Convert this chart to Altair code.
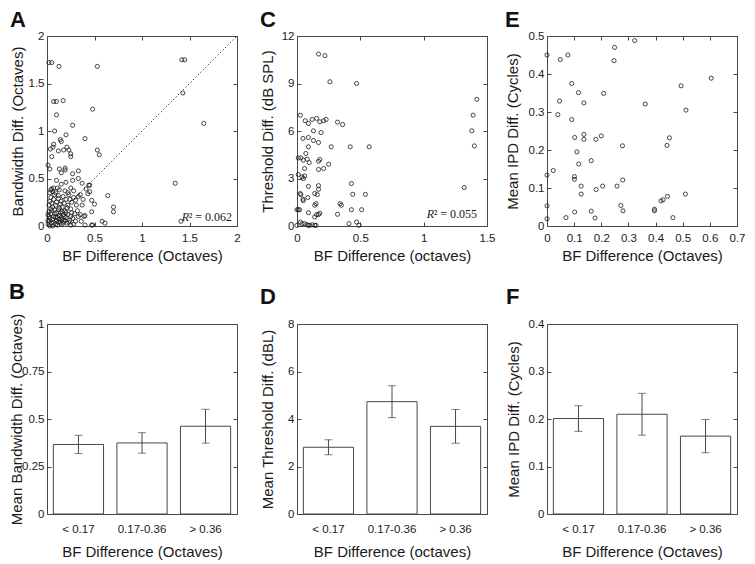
import altair as alt
import pandas as pd

FONT = "Liberation Sans"
TXT = "#1a1a1a"
LINE = "#474747"

# ---------------- Panel A: BF difference vs bandwidth difference ----------------
a_x = [0.02, 0.05, 0.126, 0.53, 1.42, 1.45, 1.43, 1.65, 1.35, 1.41,
       0.07, 0.098, 0.17, 0.10, 0.48, 0.27, 0.08, 0.40, 0.20,
       0.53, 0.55, 0.14, 0.15, 0.035, 0.07, 0.063, 0.175, 0.21, 0.23, 0.25, 0.25,
       0.12, 0.05, 0.01, 0.03, 0.13, 0.15, 0.19, 0.19, 0.33, 0.27, 0.33, 0.27, 0.37,
       0.15, 0.44, 0.45, 0.05, 0.07, 0.64, 0.70, 0.70, 0.58, 0.61, 0.47, 0.50, 0.47,
       0.45, 0.43, 0.41, 0.40, 0.40, 0.47, 0.48, 0.25,
       0.01, 0.02, 0.03, 0.01, 0.02, 0.04, 0.05, 0.06, 0.07, 0.08, 0.09, 0.10, 0.11,
       0.12, 0.13, 0.14, 0.15, 0.16, 0.17, 0.18, 0.19, 0.20, 0.21, 0.22, 0.24, 0.25,
       0.27, 0.29, 0.31, 0.33,
       0.02, 0.03, 0.04, 0.05, 0.06, 0.07, 0.08, 0.09, 0.10, 0.12, 0.13, 0.14, 0.15,
       0.16, 0.17, 0.18, 0.20, 0.22, 0.23, 0.26, 0.28, 0.30,
       0.01, 0.02, 0.03, 0.04, 0.05, 0.06, 0.07, 0.08, 0.09, 0.10, 0.11, 0.12, 0.13,
       0.14, 0.15, 0.16, 0.17, 0.18, 0.19, 0.20, 0.21, 0.23, 0.25, 0.26, 0.28, 0.30,
       0.32, 0.35, 0.37, 0.39, 0.36,
       0.04, 0.06, 0.09, 0.11, 0.13, 0.19, 0.22, 0.25, 0.10, 0.20, 0.28, 0.33, 0.24,
       0.38, 0.35, 0.12, 0.03]
a_y = [1.72, 1.72, 1.68, 1.68, 1.75, 1.75, 1.40, 1.08, 0.45, 0.05,
       1.31, 1.31, 1.32, 1.17, 1.23, 1.06, 1.00, 0.92, 0.96,
       0.80, 0.75, 0.91, 0.89, 0.81, 0.86, 0.83, 0.80, 0.83, 0.80, 0.76, 0.73,
       0.79, 0.73, 0.64, 0.60, 0.60, 0.56, 0.61, 0.59, 0.58, 0.55, 0.50, 0.48, 0.45,
       0.44, 0.43, 0.43, 0.39, 0.40, 0.32, 0.20, 0.15, 0.05, 0.03, 0.15, 0.23, 0.27,
       0.36, 0.34, 0.39, 0.11, 0.01, 0.01, 0.01, 0.01,
       0.02, 0.05, 0.08, 0.12, 0.15, 0.18, 0.03, 0.07, 0.10, 0.13, 0.02, 0.06, 0.09,
       0.04, 0.11, 0.14, 0.02, 0.07, 0.12, 0.05, 0.16, 0.09, 0.03, 0.12, 0.06, 0.18,
       0.08, 0.13, 0.22, 0.10,
       0.22, 0.26, 0.30, 0.24, 0.20, 0.28, 0.33, 0.22, 0.25, 0.29, 0.19, 0.23, 0.26,
       0.20, 0.31, 0.24, 0.28, 0.22, 0.33, 0.25, 0.30, 0.27,
       0.06, 0.10, 0.00, 0.13, 0.16, 0.00, 0.04, 0.17, 0.09, 0.14, 0.01, 0.17, 0.07,
       0.04, 0.09, 0.15, 0.03, 0.10, 0.06, 0.14, 0.19, 0.04, 0.10, 0.14, 0.02, 0.05,
       0.16, 0.12, 0.22, 0.10, 0.05,
       0.38, 0.36, 0.35, 0.40, 0.38, 0.37, 0.35, 0.40, 0.48, 0.46, 0.37, 0.31, 0.28,
       0.28, 0.33, 0.32, 0.35]

# ---------------- Panel C: BF difference vs threshold difference ----------------
c_x = [0.17, 0.22, 0.26, 0.47, 1.42, 1.39, 1.38, 1.40, 1.32,
       0.026, 0.065, 0.09, 0.12, 0.155, 0.18, 0.21, 0.23, 0.32, 0.36,
       0.047, 0.09, 0.13, 0.13, 0.17, 0.19, 0.09, 0.27, 0.42, 0.57,
       0.01, 0.03, 0.07, 0.05, 0.08, 0.096, 0.17, 0.18, 0.25, 0.21, 0.17, 0.06,
       0.01, 0.04, 0.06, 0.05, 0.09, 0.17, 0.17, 0.14, 0.16, 0.026, 0.03, 0.047, 0.05,
       0.085, 0.15, 0.14,
       0.43, 0.44, 0.54, 0.34, 0.35, 0.32, 0.43, 0.51, 0.0, 0.01, 0.02, 0.09, 0.18,
       0.17, 0.14, 0.155,
       0.026, 0.04, 0.06, 0.0, 0.09, 0.10, 0.12, 0.14, 0.15, 0.41, 0.47, 0.49, 0.08]
c_y = [10.86, 10.76, 9.11, 9.0, 8.0, 7.0, 6.01, 5.06, 2.43,
       7.0, 6.65, 6.48, 6.73, 6.8, 6.58, 6.65, 6.73, 6.56, 6.41,
       5.53, 5.59, 6.01, 5.4, 5.27, 5.9, 5.0, 5.0, 5.0, 5.0,
       4.3, 4.3, 4.58, 4.16, 4.22, 4.0, 4.09, 4.2, 3.9, 3.63, 3.57, 3.63,
       3.25, 3.1, 3.16, 3.0, 2.5, 2.55, 2.32, 2.05, 1.98, 2.05, 1.98, 1.69, 1.6,
       1.8, 1.41, 1.31,
       2.68, 2.0, 2.0, 1.41, 1.31, 0.74, 1.03, 1.03, 1.03, 1.03, 1.03, 0.84, 0.8,
       0.72, 0.57, 0.72,
       0.25, 0.15, 0.15, 0.04, 0.04, 0.04, 0.08, 0.04, 0.04, 0.15, 0.25, 0.04, 0.08]

# ---------------- Panel E: BF difference vs mean IPD difference ----------------
e_x = [0.0, 0.0, 0.0, 0.0, 0.049, 0.077, 0.04, 0.046, 0.023, 0.07,
       0.091, 0.091, 0.116, 0.136, 0.102, 0.11, 0.117, 0.136, 0.136, 0.101, 0.101,
       0.126, 0.126, 0.102, 0.163, 0.18, 0.20, 0.209, 0.181, 0.205, 0.163, 0.177,
       0.249, 0.247, 0.323, 0.278, 0.258, 0.279, 0.272, 0.28, 0.362, 0.396, 0.396,
       0.42, 0.428, 0.444, 0.442, 0.451, 0.464, 0.494, 0.512, 0.51, 0.605]
e_y = [0.45, 0.134, 0.053, 0.019, 0.438, 0.45, 0.293, 0.329, 0.146, 0.022,
       0.375, 0.28, 0.351, 0.324, 0.233, 0.195, 0.163, 0.241, 0.228, 0.13, 0.123,
       0.105, 0.084, 0.037, 0.172, 0.228, 0.237, 0.349, 0.096, 0.105, 0.039, 0.021,
       0.47, 0.435, 0.488, 0.211, 0.105, 0.121, 0.054, 0.04, 0.321, 0.044, 0.04,
       0.066, 0.069, 0.078, 0.212, 0.232, 0.022, 0.369, 0.305, 0.084, 0.389]

# ---------------- Panels B, D, F: group means with error bars ----------------
groups = ["< 0.17", "0.17-0.36", "> 0.36"]
b_mean = [0.366, 0.374, 0.462]
b_err = [0.048, 0.054, 0.089]
d_mean = [2.81, 4.73, 3.69]
d_err = [0.315, 0.67, 0.71]
f_mean = [0.201, 0.210, 0.164]
f_err = [0.027, 0.044, 0.035]

W = 190
H = 190

COMMON = dict(domain=False, grid=False, tickSize=4, offset=-4, tickColor=LINE, tickWidth=1,
              labelFont=FONT, labelFontSize=11.5, labelColor=TXT, titleFont=FONT,
              titleFontSize=15, titleColor=TXT, titleFontWeight="normal", format=".2~f",
              labelOverlap=False, labelFlush=False)
TICKONLY = dict(domain=False, grid=False, tickSize=4, offset=-4, tickColor=LINE, tickWidth=1,
                labels=False, title=None)


def letter_title(letter, off):
    return alt.TitleParams(letter, anchor="start", frame="bounds", font=FONT, fontSize=22,
                           fontWeight="bold", color="#111111", offset=off)


def r2_layers(label, right_gap, base_gap):
    rest = "\u00b2 = " + label
    rest_w = 43
    r = alt.Chart(pd.DataFrame({"t": ["R"]})).mark_text(
        font="Liberation Serif", fontStyle="italic", fontSize=12, align="right",
        baseline="alphabetic", color=TXT).encode(
        x=alt.value(W - right_gap - rest_w), y=alt.value(H - base_gap), text="t:N")
    rr = alt.Chart(pd.DataFrame({"t": [rest]})).mark_text(
        font="Liberation Serif", fontSize=12, align="right",
        baseline="alphabetic", color=TXT).encode(
        x=alt.value(W - right_gap), y=alt.value(H - base_gap), text="t:N")
    return [r, rr]


def scatter(xs, ys, xdom, ydom, xvals, yvals, xtitle, ytitle, ytx, letter, extra):
    df = pd.DataFrame({"x": xs, "y": ys})
    xsc = alt.Scale(domain=xdom, nice=False, zero=False)
    ysc = alt.Scale(domain=ydom, nice=False, zero=False)
    xaxis = alt.Axis(orient="bottom", values=xvals, title=xtitle, labelPadding=6, titleY=38,
                     titleBaseline="alphabetic", labelAngle=0, **COMMON)
    yaxis = alt.Axis(orient="left", values=yvals, title=ytitle, labelPadding=3, titleX=ytx - 4,
                     titleBaseline="alphabetic", **COMMON)
    pts = alt.Chart(df).mark_point(shape="circle", filled=False, size=17, strokeWidth=0.8,
                                   color=TXT, opacity=1).encode(
        x=alt.X("x:Q", scale=xsc, axis=xaxis), y=alt.Y("y:Q", scale=ysc, axis=yaxis))
    ghost = alt.Chart(df).mark_point(opacity=0, size=1).encode(
        x=alt.X("x:Q", scale=xsc, axis=alt.Axis(orient="top", values=xvals, **TICKONLY)),
        y=alt.Y("y:Q", scale=ysc, axis=alt.Axis(orient="right", values=yvals, **TICKONLY)))
    layers = [pts, ghost]
    for e in extra:
        layers.append(e(xsc, ysc))
    return alt.layer(*layers).resolve_axis(x="independent", y="independent").properties(
        width=W, height=H, title=letter_title(letter, -2))


def diag_layer(xsc, ysc):
    d = pd.DataFrame({"x": [0, 2], "y": [0, 2]})
    return alt.Chart(d).mark_line(strokeDash=[1.2, 2.3], color=TXT, strokeWidth=1).encode(
        x=alt.X("x:Q", scale=xsc, axis=None), y=alt.Y("y:Q", scale=ysc, axis=None))


def text_layer(chart):
    return lambda xsc, ysc: chart


def bars(means, errs, ymax, yvals, xtitle, ytitle, ytx, letter):
    df = pd.DataFrame({"g": groups, "m": means,
                       "lo": [m - e for m, e in zip(means, errs)],
                       "hi": [m + e for m, e in zip(means, errs)]})
    xsc = alt.Scale(domain=groups, paddingInner=0.21, paddingOuter=0.1)
    ysc = alt.Scale(domain=[0, ymax], nice=False, zero=True)
    xaxis = alt.Axis(orient="bottom", title=xtitle, ticks=False, domain=False, grid=False,
                     labelPadding=9, titleY=42, titleBaseline="alphabetic", labelAngle=0,
                     labelFont=FONT, labelFontSize=11.5, labelColor=TXT, titleFont=FONT,
                     titleFontSize=15, titleColor=TXT, titleFontWeight="normal")
    yaxis = alt.Axis(orient="left", values=yvals, title=ytitle, labelPadding=3, titleX=ytx - 4,
                     titleBaseline="alphabetic", **COMMON)
    base = alt.Chart(df)
    bar = base.mark_bar(fill="white", stroke=LINE, strokeWidth=1).encode(
        x=alt.X("g:N", scale=xsc, axis=xaxis, sort=groups),
        y=alt.Y("m:Q", scale=ysc, axis=yaxis))
    rule = base.mark_rule(color=LINE, strokeWidth=1).encode(
        x=alt.X("g:N", scale=xsc, axis=None, sort=groups),
        y=alt.Y("lo:Q", scale=ysc, axis=None), y2="hi:Q")
    cap_lo = base.mark_tick(color=LINE, size=8, thickness=1).encode(
        x=alt.X("g:N", scale=xsc, axis=None, sort=groups),
        y=alt.Y("lo:Q", scale=ysc, axis=None))
    cap_hi = base.mark_tick(color=LINE, size=8, thickness=1).encode(
        x=alt.X("g:N", scale=xsc, axis=None, sort=groups),
        y=alt.Y("hi:Q", scale=ysc, axis=None))
    ghost = base.mark_point(opacity=0, size=1).encode(
        x=alt.X("g:N", scale=xsc, axis=None, sort=groups),
        y=alt.Y("m:Q", scale=ysc, axis=alt.Axis(orient="right", values=yvals, **TICKONLY)))
    return alt.layer(bar, rule, cap_lo, cap_hi, ghost).resolve_axis(
        x="independent", y="independent").properties(width=W, height=H,
                                                       title=letter_title(letter, 9))


rA = r2_layers("0.062", 5, 5)
rC = r2_layers("0.055", 10, 8)

pA = scatter(a_x, a_y, [0, 2], [0, 2], [0, 0.5, 1, 1.5, 2], [0, 0.5, 1, 1.5, 2],
             "BF Difference (Octaves)", "Bandwidth Diff. (Octaves)", -25, "A",
             [diag_layer, text_layer(rA[0]), text_layer(rA[1])])
pC = scatter(c_x, c_y, [0, 1.5], [0, 12], [0, 0.5, 1, 1.5], [0, 3, 6, 9, 12],
             "BF Difference (octaves)", "Threshold Diff. (dB SPL)", -25, "C",
             [text_layer(rC[0]), text_layer(rC[1])])
pE = scatter(e_x, e_y, [0, 0.7], [0, 0.5], [0, 0.1, 0.2, 0.3, 0.4, 0.5, 0.6, 0.7],
             [0, 0.1, 0.2, 0.3, 0.4, 0.5],
             "BF Difference (Octaves)", "Mean IPD Diff. (Cycles)", -30, "E", [])

pB = bars(b_mean, b_err, 1, [0, 0.25, 0.5, 0.75, 1], "BF Difference (Octaves)",
          "Mean Bandwidth Diff. (Octaves)", -26, "B")
pD = bars(d_mean, d_err, 8, [0, 2, 4, 6, 8], "BF Difference (octaves)",
          "Mean Threshold Diff. (dBL)", -25, "D")
pF = bars(f_mean, f_err, 0.4, [0, 0.1, 0.2, 0.3, 0.4], "BF Difference (Octaves)",
          "Mean IPD Diff. (Cycles)", -29, "F")

chart = alt.concat(pA, pC, pE, pB, pD, pF, columns=3,
                   spacing={"row": 98, "column": 60}, bounds="flush").properties(
    padding=0
).configure(font=FONT, background="white").configure_view(stroke=LINE, strokeWidth=1)

chart.save("out.html", embed_options={"renderer": "svg", "actions": False})
